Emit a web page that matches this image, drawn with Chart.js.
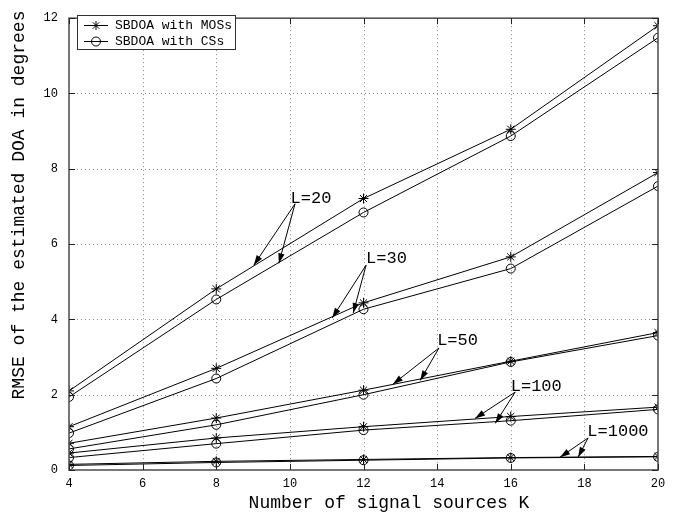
<!DOCTYPE html>
<html><head><meta charset="utf-8">
<script src="https://cdn.jsdelivr.net/npm/chart.js@4/dist/chart.umd.min.js"></script>
<style>html,body{margin:0;padding:0;background:#fff}#wrap{width:681px;height:520px}</style>
</head><body><div id="wrap"><canvas id="c" width="681" height="520"></canvas></div>
<script>
// ---- data ----
const K = [4, 8, 12, 16, 20];
const xTicks = [4, 6, 8, 10, 12, 14, 16, 18, 20];
const yTicks = [0, 2, 4, 6, 8, 10, 12];
const mosL20 = [2.10, 4.81, 7.21, 9.05, 11.80];
const csL20 = [1.94, 4.53, 6.84, 8.87, 11.48];
const mosL30 = [1.15, 2.70, 4.44, 5.66, 7.90];
const csL30 = [0.98, 2.43, 4.27, 5.35, 7.54];
const mosL50 = [0.71, 1.38, 2.12, 2.89, 3.65];
const csL50 = [0.56, 1.20, 2.00, 2.87, 3.57];
const mosL100 = [0.45, 0.85, 1.15, 1.42, 1.67];
const csL100 = [0.33, 0.70, 1.06, 1.31, 1.61];
const mosL1000 = [0.15, 0.23, 0.28, 0.33, 0.36];
const csL1000 = [0.12, 0.20, 0.26, 0.32, 0.35];
const seriesNames = ['SBDOA with MOSs', 'SBDOA with CSs'];
const lLabels = ['L=20', 'L=30', 'L=50', 'L=100', 'L=1000'];
const xTitle = 'Number of signal sources K';
const yTitle = 'RMSE of the estimated DOA in degrees';

// annotation placement (data coordinates): text anchor, arrow origin, two arrow heads
const annot = [
  {text: [10.02, 7.21], from: [10.14, 7.07], to: [[9.02, 5.44], [9.70, 5.49]]},
  {text: [12.07, 5.62], from: [12.07, 5.44], to: [[11.15, 4.04], [11.72, 4.17]]},
  {text: [14.00, 3.44], from: [14.05, 3.24], to: [[12.80, 2.28], [13.54, 2.38]]},
  {text: [16.00, 2.22], from: [16.12, 2.07], to: [[15.03, 1.37], [15.58, 1.24]]},
  {text: [18.08, 1.01], from: [18.10, 0.85], to: [[17.34, 0.34], [17.83, 0.34]]}
];

const mono = '"Liberation Mono", "DejaVu Sans Mono", monospace';
const pairs = [[mosL20, csL20], [mosL30, csL30], [mosL50, csL50], [mosL100, csL100], [mosL1000, csL1000]];
const datasets = [];
pairs.forEach((p, i) => {
  datasets.push({label: seriesNames[0] + ' ' + lLabels[i], data: K.map((k, j) => ({x: k, y: p[0][j]})),
    borderColor: '#000', borderWidth: 1, pointStyle: 'star', pointRadius: 5, pointBorderColor: '#000',
    pointBorderWidth: 1, pointBackgroundColor: 'rgba(0,0,0,0)', fill: false, tension: 0});
  datasets.push({label: seriesNames[1] + ' ' + lLabels[i], data: K.map((k, j) => ({x: k, y: p[1][j]})),
    borderColor: '#000', borderWidth: 1, pointStyle: 'circle', pointRadius: 4.5, pointBorderColor: '#000',
    pointBorderWidth: 1, pointBackgroundColor: 'rgba(0,0,0,0)', fill: false, tension: 0});
});

function drawStar(ctx, x, y, r) {
  ctx.beginPath();
  for (let a = 0; a < 4; a++) {
    const t = a * Math.PI / 4;
    ctx.moveTo(x - r * Math.cos(t), y - r * Math.sin(t));
    ctx.lineTo(x + r * Math.cos(t), y + r * Math.sin(t));
  }
  ctx.stroke();
}
function drawCircle(ctx, x, y, r) {
  ctx.beginPath(); ctx.arc(x, y, r, 0, Math.PI * 2); ctx.stroke();
}

const gridPlugin = {
  id: 'grid',
  beforeDatasetsDraw(chart) {
    const ctx = chart.ctx, a = chart.chartArea, xs = chart.scales.x, ys = chart.scales.y;
    ctx.save();
    ctx.strokeStyle = '#8a8a8a'; ctx.lineWidth = 1; ctx.setLineDash([1, 3]);
    xTicks.forEach(v => { const px = Math.round(xs.getPixelForValue(v)) + 0.5;
      if (v > xs.min && v < xs.max) { ctx.beginPath(); ctx.moveTo(px, a.top); ctx.lineTo(px, a.bottom); ctx.stroke(); } });
    yTicks.forEach(v => { const py = Math.round(ys.getPixelForValue(v)) + 0.5;
      if (v > ys.min && v < ys.max) { ctx.beginPath(); ctx.moveTo(a.left, py); ctx.lineTo(a.right, py); ctx.stroke(); } });
    ctx.restore();
  },
  afterDraw(chart) {
    const ctx = chart.ctx, a = chart.chartArea, xs = chart.scales.x, ys = chart.scales.y;
    ctx.save();
    // frame
    ctx.setLineDash([]);
    ctx.strokeStyle = '#555'; ctx.lineWidth = 1.6;
    ctx.strokeRect(a.left, a.top, a.right - a.left, a.bottom - a.top);
    // inward ticks
    ctx.lineWidth = 1; ctx.strokeStyle = '#222';
    const tl = 6;
    xTicks.forEach(v => { const px = Math.round(xs.getPixelForValue(v)) + 0.5;
      ctx.beginPath(); ctx.moveTo(px, a.bottom); ctx.lineTo(px, a.bottom - tl);
      ctx.moveTo(px, a.top); ctx.lineTo(px, a.top + tl); ctx.stroke(); });
    yTicks.forEach(v => { const py = Math.round(ys.getPixelForValue(v)) + 0.5;
      ctx.beginPath(); ctx.moveTo(a.left, py); ctx.lineTo(a.left + tl, py);
      ctx.moveTo(a.right, py); ctx.lineTo(a.right - tl, py); ctx.stroke(); });

    // legend
    const lx = 77.5, ly = 15.5, lw = 158, lh = 34;
    ctx.fillStyle = '#fff'; ctx.fillRect(lx, ly, lw, lh);
    ctx.strokeStyle = '#333'; ctx.lineWidth = 1; ctx.strokeRect(lx, ly, lw, lh);
    ctx.strokeStyle = '#000';
    ctx.font = '13px ' + mono; ctx.fillStyle = '#000'; ctx.textBaseline = 'middle'; ctx.textAlign = 'left';
    [25, 41].forEach((yy, i) => {
      ctx.beginPath(); ctx.moveTo(84, yy + 0.5); ctx.lineTo(108, yy + 0.5); ctx.stroke();
      if (i === 0) drawStar(ctx, 96, yy + 0.5, 4.5); else drawCircle(ctx, 96, yy + 0.5, 4.5);
      ctx.fillText(seriesNames[i], 115, yy + 1);
    });

    // annotations
    ctx.font = '17px ' + mono; ctx.textBaseline = 'middle'; ctx.textAlign = 'left';
    annot.forEach((an, i) => {
      const tx = xs.getPixelForValue(an.text[0]), ty = ys.getPixelForValue(an.text[1]);
      ctx.fillStyle = '#000';
      ctx.fillText(lLabels[i], tx, ty);
      const fx = xs.getPixelForValue(an.from[0]), fy = ys.getPixelForValue(an.from[1]);
      an.to.forEach(t => {
        const hx = xs.getPixelForValue(t[0]), hy = ys.getPixelForValue(t[1]);
        ctx.beginPath(); ctx.moveTo(fx, fy); ctx.lineTo(hx, hy); ctx.stroke();
        const ang = Math.atan2(hy - fy, hx - fx), L = 10, W = 3.2;
        const bx = hx - L * Math.cos(ang), by = hy - L * Math.sin(ang);
        ctx.beginPath(); ctx.moveTo(hx, hy);
        ctx.lineTo(bx + W * Math.sin(ang), by - W * Math.cos(ang));
        ctx.lineTo(bx - W * Math.sin(ang), by + W * Math.cos(ang));
        ctx.closePath(); ctx.fill();
      });
    });

    // axis titles
    ctx.font = '18px ' + mono; ctx.fillStyle = '#000'; ctx.textAlign = 'center'; ctx.textBaseline = 'middle';
    ctx.fillText(xTitle, 389, 503);
    ctx.translate(19, 205); ctx.rotate(-Math.PI / 2);
    ctx.fillText(yTitle, 0, 0);
    ctx.restore();
  }
};

new Chart(document.getElementById('c'), {
  type: 'line',
  data: {datasets},
  options: {
    responsive: false, animation: false, devicePixelRatio: 1,
    layout: {padding: {top: 7, right: 23, left: 0, bottom: 0}},
    plugins: {legend: {display: false}, tooltip: {enabled: false}},
    scales: {
      x: {type: 'linear', min: 4, max: 20,
        afterBuildTicks: s => { s.ticks = xTicks.map(v => ({value: v})); },
        afterFit: s => { s.height = 50; },
        grid: {display: false, drawTicks: false}, border: {display: false},
        ticks: {font: {family: mono, size: 12}, color: '#000', padding: 7, maxRotation: 0}},
      y: {type: 'linear', min: 0, max: 12,
        afterBuildTicks: s => { s.ticks = yTicks.map(v => ({value: v})); },
        afterFit: s => { s.width = 69; },
        grid: {display: false, drawTicks: false}, border: {display: false},
        ticks: {font: {family: mono, size: 12}, color: '#000', padding: 11}}
    }
  },
  plugins: [gridPlugin]
});
</script></body></html>
